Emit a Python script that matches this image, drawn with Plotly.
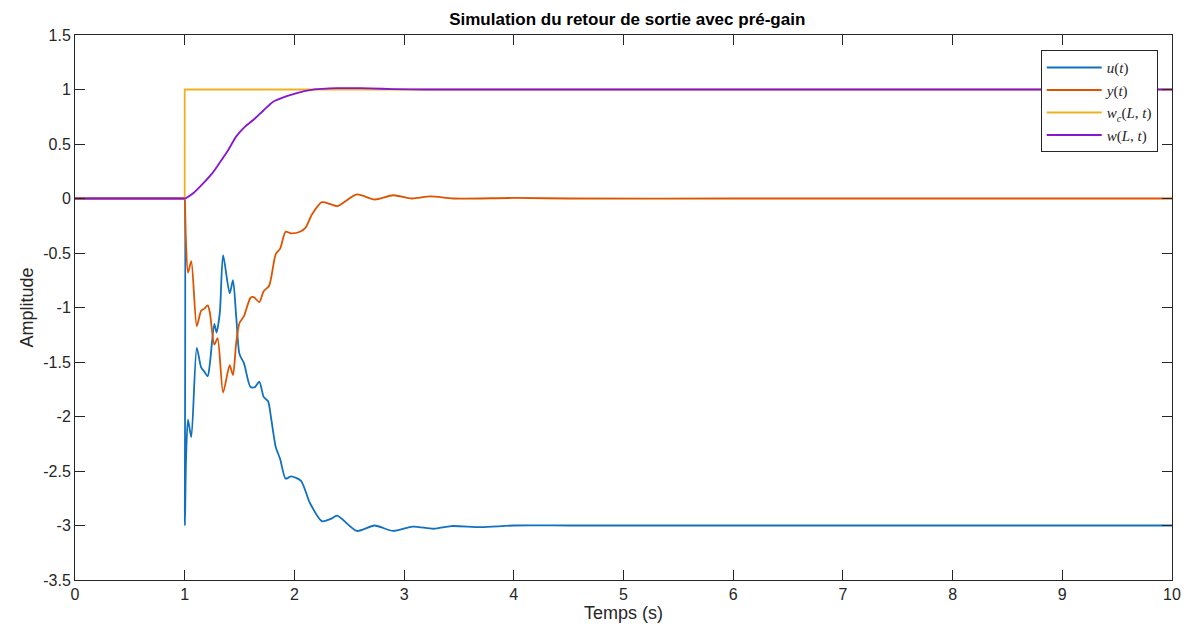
import plotly.graph_objects as go

# u(t)
t_u = [0, 0.5, 0.99, 0.999, 1.0, 1.002, 1.012, 1.03, 1.06, 1.11, 1.15, 1.18, 1.21, 1.23, 1.27, 1.29, 1.32, 1.35,
       1.41, 1.44, 1.47, 1.50, 1.54, 1.60, 1.64, 1.68, 1.72, 1.76, 1.79, 1.83, 1.87, 1.92, 1.97,
       2.06, 2.14, 2.25, 2.33, 2.39, 2.57, 2.73, 2.90, 3.08, 3.27, 3.43, 3.70, 4.0, 4.5, 6.0, 8.0, 10.0]
v_u = [0, 0, 0, 0, 0, -3.0, -2.4, -2.03, -2.19, -1.37, -1.55, -1.59, -1.63, -1.51, -1.15, -1.23, -1.05, -0.52,
       -0.87, -0.75, -1.09, -1.43, -1.51, -1.73, -1.73, -1.68, -1.82, -1.86, -2.03, -2.28, -2.39, -2.57, -2.55,
       -2.59, -2.79, -2.96, -2.94, -2.91, -3.05, -3.00, -3.05, -3.01, -3.03, -3.005, -3.015, -3.0, -3.0, -3.0, -3.0, -3.0]

# y(t)
t_y = [0, 0.5, 0.99, 0.999, 1.0, 1.01, 1.03, 1.06, 1.11, 1.15, 1.18, 1.21, 1.23, 1.27, 1.30, 1.35, 1.41, 1.44, 1.47,
       1.50, 1.54, 1.60, 1.63, 1.68, 1.72, 1.77, 1.83, 1.87, 1.92, 1.97, 2.05, 2.10, 2.16, 2.25,
       2.33, 2.39, 2.57, 2.73, 2.90, 3.07, 3.24, 3.45, 4.0, 4.5, 6.0, 8.0, 10.0]
v_y = [0, 0, 0, 0, 0, -0.35, -0.68, -0.575, -1.17, -1.03, -1.01, -0.98, -1.05, -1.34, -1.28, -1.78, -1.53, -1.62, -1.32,
       -1.14, -1.08, -0.91, -0.905, -0.95, -0.85, -0.80, -0.51, -0.46, -0.305, -0.32, -0.305, -0.27, -0.147, -0.034,
       -0.052, -0.07, 0.037, -0.009, 0.03, 0.0, 0.02, 0.0, 0.005, 0.0, 0.0, 0.0, 0.0]

# w_c(L,t)
t_wc = [0, 1.0, 1.0001, 10.0]
v_wc = [0, 0, 1.0, 1.0]

# w(L,t)
t_w = [0, 0.5, 0.99, 1.0, 1.08, 1.17, 1.25, 1.32, 1.40, 1.47, 1.55, 1.63, 1.72, 1.81, 1.93, 2.03, 2.14,
       2.25, 2.39, 2.52, 2.69, 2.9, 3.2, 3.6, 4.5, 6.0, 8.0, 10.0]
v_w = [0, 0, 0, 0, 0.05, 0.14, 0.23, 0.33, 0.45, 0.57, 0.66, 0.725, 0.81, 0.89, 0.94, 0.97, 0.994,
       1.005, 1.012, 1.013, 1.01, 1.004, 1.0, 1.0, 1.0, 1.0, 1.0, 1.0]

x_ticks = list(range(0, 11))
y_ticks = [-3.5, -3, -2.5, -2, -1.5, -1, -0.5, 0, 0.5, 1, 1.5]
y_tick_text = ["-3.5", "-3", "-2.5", "-2", "-1.5", "-1", "-0.5", "0", "0.5", "1", "1.5"]

FONT = "Liberation Sans, Arial"
fig = go.Figure()
series = [
    (t_u, v_u, "<i>u</i>(<i>t</i>)", "#1171BE", "spline"),
    (t_y, v_y, "<i>y</i>(<i>t</i>)", "#DD5400", "spline"),
    (t_wc, v_wc, "<i>w</i><sub><i>c</i></sub>(<i>L</i>, <i>t</i>)", "#EDB120", "linear"),
    (t_w, v_w, "<i>w</i>(<i>L</i>, <i>t</i>)", "#8516D1", "spline"),
]
for t, v, name, col, shape in series:
    line = dict(color=col, width=1.8, shape=shape)
    if shape == "spline":
        line["smoothing"] = 0.7
    fig.add_trace(go.Scatter(x=t, y=v, mode="lines", name=name, line=line))

axis_common = dict(showline=True, linecolor="#262626", linewidth=1, mirror="ticks",
                   ticks="inside", ticklen=10, tickcolor="#262626", showgrid=False,
                   zeroline=False, automargin=False,
                   tickfont=dict(family=FONT, size=16, color="#262626"))

# page body has an 8px default margin; compensate so plot sits where the reference's does
fig.update_layout(
    width=1187, height=629,
    margin=dict(l=67, r=23, t=27, b=57),
    plot_bgcolor="white", paper_bgcolor="white",
    title=dict(text="<b>Simulation du retour de sortie avec pré-gain</b>",
               x=0.5217, xanchor="center", y=0.982, yanchor="middle",
               font=dict(family=FONT, size=17, color="black")),
    xaxis=dict(range=[0, 10], tickvals=x_ticks, ticktext=[str(v) for v in x_ticks],
               title=dict(text="Temps (s)", standoff=2,
                          font=dict(family=FONT, size=18, color="#262626")),
               **axis_common),
    yaxis=dict(range=[-3.5, 1.5], tickvals=y_ticks, ticktext=y_tick_text,
               title=dict(text="Amplitude", standoff=4,
                          font=dict(family=FONT, size=18, color="#262626")),
               **axis_common),
    legend=dict(x=0.987, y=0.972, xanchor="right", yanchor="top",
                bgcolor="white", bordercolor="#262626", borderwidth=1,
                font=dict(family="Liberation Serif, DejaVu Serif", size=15, color="#262626"),
                tracegroupgap=0, itemwidth=55),
    showlegend=True,
)

fig.write_html("out.html")
